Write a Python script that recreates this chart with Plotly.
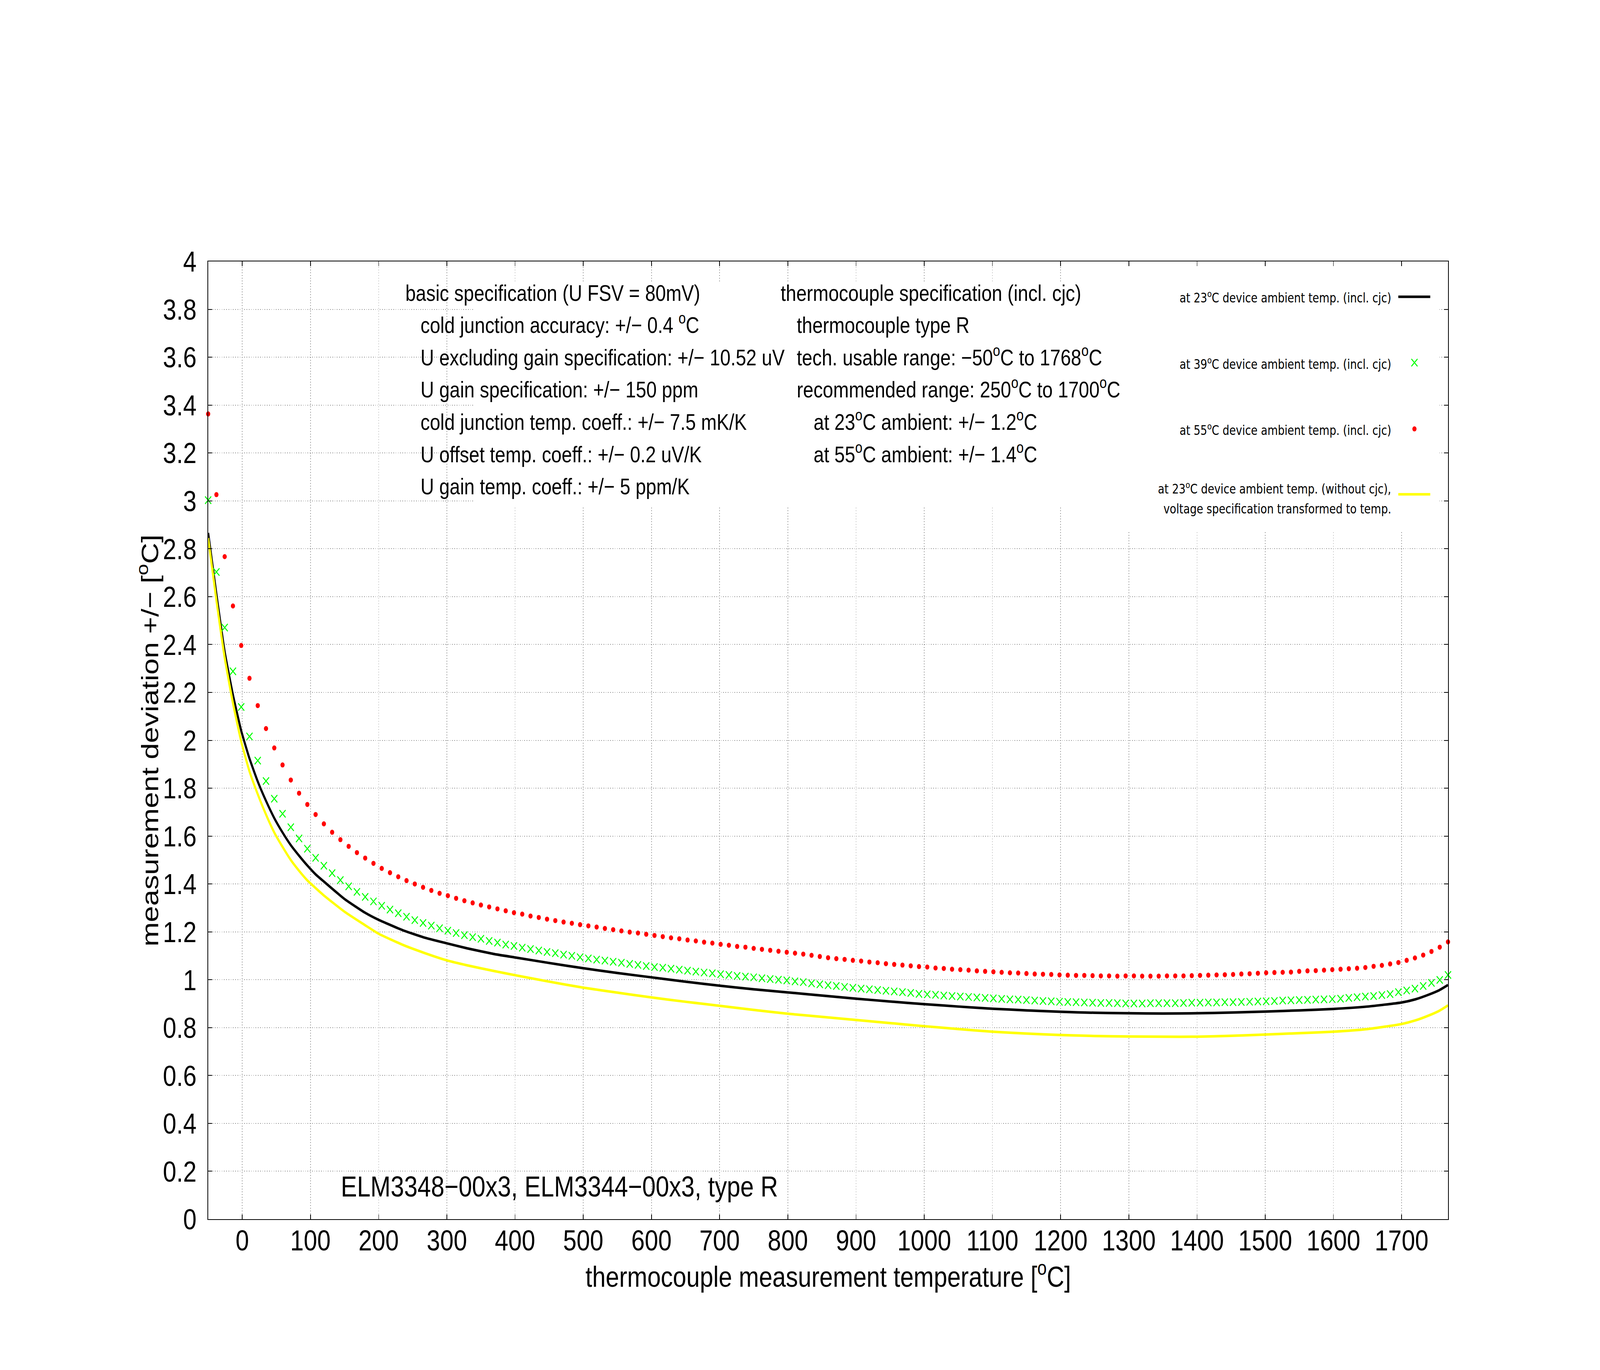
import plotly.graph_objects as go

# ---------------- data ----------------
temps = [-50, -37.88, -25.76, -13.64, -1.52, 10.6, 22.72, 34.84, 46.96, 59.08, 71.2, 83.32, 95.44, 107.56,
         119.68, 131.8, 143.92, 156.04, 168.16, 180.28, 192.4, 204.52, 216.64, 228.76, 240.88, 253, 265.12,
         277.24, 289.36, 301.48, 313.6, 325.72, 337.84, 349.96, 362.08, 374.2, 386.32, 398.44, 410.56, 422.68,
         434.8, 446.92, 459.04, 471.16, 483.28, 495.4, 507.52, 519.64, 531.76, 543.88, 556, 568.12, 580.24,
         592.36, 604.48, 616.6, 628.72, 640.84, 652.96, 665.08, 677.2, 689.32, 701.44, 713.56, 725.68, 737.8,
         749.92, 762.04, 774.16, 786.28, 798.4, 810.52, 822.64, 834.76, 846.88, 859, 871.12, 883.24, 895.36,
         907.48, 919.6, 931.72, 943.84, 955.96, 968.08, 980.2, 992.32, 1004.44, 1016.56, 1028.68, 1040.8,
         1052.92, 1065.04, 1077.16, 1089.28, 1101.4, 1113.52, 1125.64, 1137.76, 1149.88, 1162, 1174.12,
         1186.24, 1198.36, 1210.48, 1222.6, 1234.72, 1246.84, 1258.96, 1271.08, 1283.2, 1295.32, 1307.44,
         1319.56, 1331.68, 1343.8, 1355.92, 1368.04, 1380.16, 1392.28, 1404.4, 1416.52, 1428.64, 1440.76,
         1452.88, 1465, 1477.12, 1489.24, 1501.36, 1513.48, 1525.6, 1537.72, 1549.84, 1561.96, 1574.08,
         1586.2, 1598.32, 1610.44, 1622.56, 1634.68, 1646.8, 1658.92, 1671.04, 1683.16, 1695.28, 1707.4,
         1719.52, 1731.64, 1743.76, 1755.88, 1768]

dev_39 = [3.003, 2.703, 2.471, 2.288, 2.139, 2.016, 1.915, 1.830, 1.756, 1.693, 1.637, 1.590, 1.547, 1.509,
          1.476, 1.445, 1.416, 1.390, 1.367, 1.346, 1.327, 1.309, 1.293, 1.278, 1.263, 1.249, 1.237, 1.226,
          1.215, 1.205, 1.195, 1.186, 1.178, 1.171, 1.162, 1.155,
          1.147, 1.141, 1.134, 1.128, 1.122, 1.116, 1.111, 1.105, 1.100, 1.094, 1.089, 1.084, 1.080, 1.075,
          1.071, 1.066, 1.062, 1.057, 1.053, 1.050, 1.046, 1.042, 1.038, 1.034, 1.030, 1.027, 1.023, 1.020,
          1.016, 1.013, 1.010, 1.006, 1.003, 1.000, 0.997, 0.993, 0.990,
          0.985, 0.981, 0.977, 0.974, 0.970, 0.966, 0.963, 0.960, 0.957, 0.954, 0.951, 0.948, 0.945, 0.941,
          0.939, 0.937, 0.934, 0.932, 0.930, 0.928, 0.926, 0.924, 0.922, 0.920, 0.918, 0.917, 0.915, 0.913,
          0.911, 0.910, 0.908, 0.907, 0.906, 0.905, 0.904, 0.903, 0.903,
          0.902, 0.901, 0.901, 0.901, 0.902, 0.902, 0.902, 0.902, 0.903, 0.904, 0.904, 0.905, 0.905, 0.906,
          0.906, 0.907, 0.908, 0.909, 0.910, 0.911, 0.913, 0.914, 0.915, 0.916, 0.917, 0.918, 0.919, 0.921,
          0.924, 0.927, 0.930, 0.932, 0.936, 0.940, 0.948, 0.955, 0.963, 0.974, 0.987, 0.999, 1.020]

dev_55 = [3.363, 3.026, 2.767, 2.561, 2.396, 2.259, 2.145, 2.049, 1.968, 1.897, 1.834, 1.779, 1.732, 1.690,
          1.651, 1.616, 1.585, 1.557, 1.531, 1.508, 1.486, 1.465, 1.447, 1.430, 1.414, 1.400, 1.386, 1.373,
          1.361, 1.351, 1.340, 1.330, 1.321, 1.312, 1.304, 1.296,
          1.288, 1.280, 1.274, 1.266, 1.260, 1.253, 1.247, 1.241, 1.236, 1.230, 1.225, 1.220, 1.214, 1.209,
          1.204, 1.199, 1.195, 1.190, 1.185, 1.180, 1.175, 1.171, 1.166, 1.162, 1.157, 1.153, 1.148, 1.144,
          1.139, 1.136, 1.131, 1.127, 1.123, 1.119, 1.115, 1.111, 1.107,
          1.102, 1.097, 1.092, 1.088, 1.085, 1.081, 1.078, 1.074, 1.071, 1.067, 1.064, 1.061, 1.058, 1.055,
          1.053, 1.049, 1.047, 1.044, 1.042, 1.040, 1.037, 1.035, 1.033, 1.031, 1.029, 1.028, 1.026, 1.024,
          1.023, 1.022, 1.020, 1.019, 1.018, 1.018, 1.017, 1.016, 1.016,
          1.015, 1.016, 1.016, 1.015, 1.015, 1.015, 1.016, 1.016, 1.016, 1.017, 1.018, 1.019, 1.020, 1.021,
          1.022, 1.024, 1.025, 1.027, 1.029, 1.030, 1.031, 1.032, 1.035, 1.037, 1.038, 1.040, 1.042, 1.044,
          1.046, 1.048, 1.051, 1.056, 1.060, 1.066, 1.072, 1.081, 1.091, 1.103, 1.118, 1.136, 1.158]

line_t = [-50, -37.88, -25.76, -13.64, -1.52, 10.6, 22.72, 34.84, 46.96, 59.08, 71.2, 83.32, 95.44, 107.56,
          119.68, 150, 180, 200, 236, 266, 300, 330, 370, 400, 450, 500, 550, 600, 650, 700, 750, 800, 850,
          900, 950, 1000, 1050, 1100, 1150, 1200, 1250, 1300, 1350, 1400, 1450, 1500, 1550, 1600, 1650, 1700,
          1720, 1740, 1755, 1768]

dev_23 = [2.866, 2.61, 2.37, 2.19, 2.04, 1.924, 1.828, 1.747, 1.675, 1.615, 1.562, 1.518, 1.477, 1.440,
          1.410, 1.337, 1.280, 1.250, 1.206, 1.177, 1.152, 1.131, 1.107, 1.093, 1.070, 1.048, 1.028, 1.010,
          0.992, 0.975, 0.960, 0.947, 0.934, 0.921, 0.909, 0.898, 0.888, 0.879, 0.872, 0.866, 0.862, 0.860,
          0.859, 0.860, 0.863, 0.867, 0.872, 0.878, 0.888, 0.905, 0.918, 0.938, 0.956, 0.978]

dev_23_nocjc = [2.845, 2.585, 2.345, 2.155, 1.995, 1.870, 1.775, 1.690, 1.615, 1.555, 1.500, 1.455, 1.415,
                1.383, 1.352, 1.284, 1.228, 1.192, 1.145, 1.113, 1.081, 1.060, 1.036, 1.019, 0.992, 0.967,
                0.946, 0.926, 0.908, 0.891, 0.874, 0.858, 0.845, 0.832, 0.819, 0.806, 0.794, 0.783, 0.775,
                0.769, 0.765, 0.763, 0.762, 0.762, 0.766, 0.771, 0.777, 0.783, 0.794, 0.815, 0.830, 0.851,
                0.870, 0.893]

x_tickvals = [0, 100, 200, 300, 400, 500, 600, 700, 800, 900, 1000, 1100, 1200, 1300, 1400, 1500, 1600, 1700]
x_ticktext = ["0", "100", "200", "300", "400", "500", "600", "700", "800", "900", "1000", "1100", "1200",
              "1300", "1400", "1500", "1600", "1700"]
y_tickvals = [0, 0.2, 0.4, 0.6, 0.8, 1.0, 1.2, 1.4, 1.6, 1.8, 2.0, 2.2, 2.4, 2.6, 2.8, 3.0, 3.2, 3.4, 3.6, 3.8, 4.0]
y_ticktext = ["0", "0.2", "0.4", "0.6", "0.8", "1", "1.2", "1.4", "1.6", "1.8", "2", "2.2", "2.4", "2.6",
              "2.8", "3", "3.2", "3.4", "3.6", "3.8", "4"]

spec_lines = [
    "basic specification (U FSV = 80mV)",
    "cold junction accuracy: +/\u2212 0.4 <sup>o</sup>C",
    "U excluding gain specification: +/\u2212 10.52 uV",
    "U gain specification: +/\u2212 150 ppm",
    "cold junction temp. coeff.: +/\u2212 7.5 mK/K",
    "U offset temp. coeff.: +/\u2212 0.2 uV/K",
    "U gain temp. coeff.: +/\u2212 5 ppm/K",
]
tc_lines = [
    "thermocouple specification (incl. cjc)",
    "thermocouple type R",
    "tech. usable range: \u221250<sup>o</sup>C to 1768<sup>o</sup>C",
    "recommended range: 250<sup>o</sup>C to 1700<sup>o</sup>C",
    "at 23<sup>o</sup>C ambient: +/\u2212 1.2<sup>o</sup>C",
    "at 55<sup>o</sup>C ambient: +/\u2212 1.4<sup>o</sup>C",
]
legend_labels = [
    "at 23<sup>o</sup>C device ambient temp. (incl. cjc)",
    "at 39<sup>o</sup>C device ambient temp. (incl. cjc)",
    "at 55<sup>o</sup>C device ambient temp. (incl. cjc)",
    "at 23<sup>o</sup>C device ambient temp. (without cjc),",
    "voltage specification transformed to temp.",
]
device_label = "ELM3348\u221200x3, ELM3344\u221200x3, type R"
x_title = "thermocouple measurement temperature [<sup>o</sup>C]"
y_title = "measurement deviation +/\u2212 [<sup>o</sup>C]"

# ---------------- geometry ----------------
W, H = 4958, 3506
ML, MR, MT, MB = 645, 471, 669, 386
PW, PH = W - ML - MR, H - MT - MB


def fx(px):
    return (px - ML) / PW


def fy(py):
    return (H - MB - py) / PH


FONT = "Liberation Sans, Arial, Helvetica, sans-serif"
LFONT = "DejaVu Sans, Verdana, sans-serif"

GREEN_MARK = dict(symbol="x-thin", size=19, color="#00ff00", line=dict(color="#00ff00", width=2.8))
RED_MARK = dict(symbol="circle", size=13, color="#ff0000", line=dict(width=0))

fig = go.Figure()

fig.add_trace(go.Scatter(x=line_t, y=dev_23, mode="lines",
                         line=dict(color="black", width=6.5, shape="spline", smoothing=0.5)))
fig.add_trace(go.Scatter(x=temps, y=dev_39, mode="markers", cliponaxis=False, marker=GREEN_MARK))
fig.add_trace(go.Scatter(x=temps, y=dev_55, mode="markers", cliponaxis=False, marker=RED_MARK))
fig.add_trace(go.Scatter(x=line_t, y=dev_23_nocjc, mode="lines",
                         line=dict(color="#ffff00", width=6.5, shape="spline", smoothing=0.5)))

# legend samples on an overlay axis spanning the plot area (0..1)
sx0, sx1, sxm = fx(4333), fx(4432), fx(4383)
fig.add_trace(go.Scatter(x=[sx0, sx1], y=[fy(759.6), fy(759.6)], mode="lines", xaxis="x2", yaxis="y2",
                         line=dict(color="black", width=6.5)))
fig.add_trace(go.Scatter(x=[sxm], y=[fy(928)], mode="markers", xaxis="x2", yaxis="y2", marker=GREEN_MARK))
fig.add_trace(go.Scatter(x=[sxm], y=[fy(1097.6)], mode="markers", xaxis="x2", yaxis="y2", marker=RED_MARK))
fig.add_trace(go.Scatter(x=[sx0, sx1], y=[fy(1265), fy(1265)], mode="lines", xaxis="x2", yaxis="y2",
                         line=dict(color="#ffff00", width=6.5)))

annotations = []
baselines = [769.5 + 82.6 * k for k in range(7)]
spec_x = [1254] + [1301] * 6
for txt, bx, bl in zip(spec_lines, spec_x, baselines):
    annotations.append(dict(text=txt, xref="paper", yref="paper", x=fx(bx), y=fy(bl + 14),
                            xanchor="left", yanchor="bottom", showarrow=False,
                            font=dict(family=FONT, size=58, color="black")))
tc_x = [2417, 2467, 2467, 2467, 2519, 2519]
for txt, bx, bl in zip(tc_lines, tc_x, baselines):
    annotations.append(dict(text=txt, xref="paper", yref="paper", x=fx(bx), y=fy(bl + 14),
                            xanchor="left", yanchor="bottom", showarrow=False,
                            font=dict(family=FONT, size=58, color="black")))
leg_base = [774, 943.6, 1113, 1262.8, 1314]
for txt, bl in zip(legend_labels, leg_base):
    annotations.append(dict(text=txt, xref="paper", yref="paper", x=fx(4313), y=fy(bl + 10),
                            xanchor="right", yanchor="bottom", showarrow=False,
                            font=dict(family=LFONT, size=33, color="black")))
annotations.append(dict(text=device_label, xref="paper", yref="paper", x=fx(1054), y=fy(3080),
                        xanchor="left", yanchor="bottom", showarrow=False,
                        font=dict(family=FONT, size=75, color="black")))
annotations.append(dict(text=x_title, xref="paper", yref="paper", x=0.5, y=fy(3312),
                        xanchor="center", yanchor="bottom", showarrow=False,
                        font=dict(family=FONT, size=75, color="black")))
annotations.append(dict(text=y_title, xref="paper", yref="paper", x=fx(508), y=0.5, textangle=-90,
                        xanchor="right", yanchor="middle", showarrow=False,
                        font=dict(family=FONT, size=75, color="black")))

shapes = [
    dict(type="rect", xref="x", yref="y", x0=340.4, x1=1752.9, y0=2.977, y1=3.913,
         fillcolor="white", line=dict(width=0), layer="between"),
    dict(type="rect", xref="x", yref="y", x0=1253.6, x1=1752.9, y0=2.877, y1=3.985,
         fillcolor="white", line=dict(width=0), layer="between"),
]

axis_common = dict(ticks="inside", ticklen=12, tickwidth=2, tickcolor="black", showline=True,
                   linecolor="black", linewidth=2, mirror="ticks", showgrid=True, gridcolor="#8c8c8c",
                   gridwidth=2, griddash="2px,5px", zeroline=False,
                   tickfont=dict(family=FONT, size=75, color="black"))

fig.update_layout(
    width=W, height=H, autosize=False,
    margin=dict(l=ML, r=MR, t=MT, b=MB),
    paper_bgcolor="white", plot_bgcolor="white",
    showlegend=False,
    xaxis=dict(range=[-50, 1768], tickmode="array", tickvals=x_tickvals, ticktext=x_ticktext,
               ticklabelstandoff=-12, **axis_common),
    yaxis=dict(range=[0, 4], tickmode="array", tickvals=y_tickvals, ticktext=y_ticktext,
               ticklabelstandoff=19, **axis_common),
    xaxis2=dict(overlaying="x", anchor="y2", range=[0, 1], visible=False),
    yaxis2=dict(overlaying="y", anchor="x2", range=[0, 1], visible=False),
    annotations=annotations,
    shapes=shapes,
)

# make the fixed-size figure fill the actual browser viewport exactly
fit_js = """
var gd = document.getElementById('{plot_id}');
var de = document.documentElement, bd = document.body;
de.style.margin = '0'; de.style.padding = '0'; de.style.overflow = 'hidden';
bd.style.margin = '0'; bd.style.padding = '0'; bd.style.overflow = 'hidden';
var vw = window.innerWidth, vh = window.innerHeight;
var sx = vw / %d, sy = vh / %d;
var wrap = gd.parentElement;
wrap.style.width = vw + 'px'; wrap.style.height = vh + 'px'; wrap.style.overflow = 'hidden';
gd.style.transformOrigin = '0 0';
gd.style.transform = 'scale(' + sx + ',' + sy + ')';
""" % (W, H)

fig.write_html("out.html", post_script=fit_js,
               config={"displayModeBar": False, "staticPlot": True})
